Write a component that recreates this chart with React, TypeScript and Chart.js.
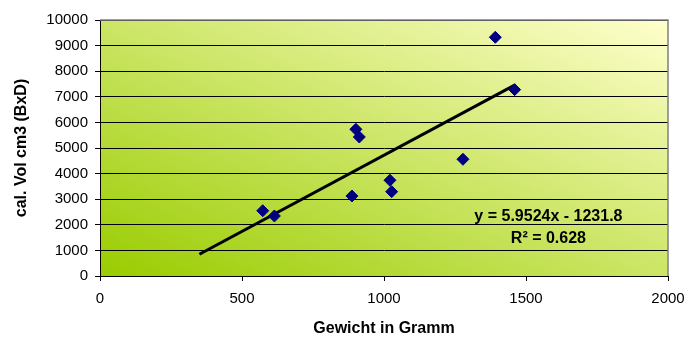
import React, { useEffect, useRef } from "react";
import { Chart, registerables } from "chart.js";

Chart.register(...registerables);

// Data
const weightGrams = [573, 614, 887, 901, 913, 1021, 1027, 1278, 1392, 1460];
const volumeCm3 = [2550, 2345, 3125, 5730, 5430, 3740, 3295, 4560, 9325, 7280];

// Linear trendline as printed on the chart
const trendSlope = 5.9524;
const trendIntercept = -1231.8;
const trendStartX = 350;
const trendEndX = 1460;
const equationLines = ["y = 5.9524x - 1231.8", "R\u00B2 = 0.628"];

const xTitle = "Gewicht in Gramm";
const yTitle = "cal. Vol cm3 (BxD)";

const FONT = "'Liberation Sans', Arial, sans-serif";

const plotDecor = {
  id: "plotDecor",
  beforeDraw(chart: any) {
    const { ctx, chartArea } = chart;
    const { left, top, right, bottom } = chartArea;
    const w = right - left;
    const h = bottom - top;
    ctx.save();
    ctx.translate(left, top);
    ctx.scale(w, h);
    const g = ctx.createLinearGradient(0, 1, 1, 0);
    g.addColorStop(0, "#99cc00");
    g.addColorStop(1, "#ffffcc");
    ctx.fillStyle = g;
    ctx.fillRect(0, 0, 1, 1);
    ctx.restore();
  },
  beforeDatasetsDraw(chart: any) {
    const { ctx, chartArea } = chart;
    const { left, top, right, bottom } = chartArea;
    ctx.save();
    ctx.strokeStyle = "#808080";
    ctx.lineWidth = 1.5;
    ctx.beginPath();
    ctx.moveTo(left, top);
    ctx.lineTo(right, top);
    ctx.lineTo(right, bottom);
    ctx.stroke();
    ctx.restore();
  },
  afterDraw(chart: any) {
    const { ctx, chartArea, scales } = chart;
    ctx.save();
    ctx.fillStyle = "#000";
    ctx.font = `bold 16px ${FONT}`;
    ctx.textAlign = "center";
    ctx.textBaseline = "middle";
    // equation label
    const ex = scales.x.getPixelForValue(1579);
    const ey1 = scales.y.getPixelForValue(2310);
    const ey2 = scales.y.getPixelForValue(1450);
    ctx.fillText(equationLines[0], ex, ey1);
    ctx.fillText(equationLines[1], ex, ey2);
    // axis titles
    const cx = (chartArea.left + chartArea.right) / 2;
    ctx.fillText(xTitle, cx, 329);
    const cy = (chartArea.top + chartArea.bottom) / 2;
    ctx.translate(22, cy);
    ctx.rotate(-Math.PI / 2);
    ctx.fillText(yTitle, 0, 0);
    ctx.restore();
  },
};

const plainTick = (value: any) => String(value);

export default function App() {
  const canvasRef = useRef<HTMLCanvasElement | null>(null);

  useEffect(() => {
    if (!canvasRef.current) return;
    const points = weightGrams.map((x, i) => ({ x, y: volumeCm3[i] }));
    const trend = [trendStartX, trendEndX].map((x) => ({
      x,
      y: trendSlope * x + trendIntercept,
    }));
    const chart = new Chart(canvasRef.current, {
      type: "scatter",
      data: {
        datasets: [
          {
            label: "Linear trend",
            data: trend,
            showLine: true,
            borderColor: "#000000",
            borderWidth: 3,
            pointRadius: 0,
            fill: false,
            order: 2,
          },
          {
            label: "cal. Vol",
            data: points,
            pointStyle: "rectRot",
            pointRadius: 6,
            pointBackgroundColor: "#000080",
            pointBorderColor: "#000080",
            pointBorderWidth: 1,
            order: 1,
          },
        ],
      },
      options: {
        animation: false,
        responsive: true,
        maintainAspectRatio: false,
        layout: { padding: { top: 20, right: 20, left: 0, bottom: 0 } },
        plugins: {
          legend: { display: false },
          tooltip: { enabled: false },
        },
        scales: {
          x: {
            type: "linear",
            min: 0,
            max: 2000,
            ticks: {
              stepSize: 500,
              color: "#000",
              font: { family: FONT, size: 15 },
              padding: 9,
              maxRotation: 0,
              callback: plainTick,
            },
            grid: {
              drawOnChartArea: false,
              drawTicks: true,
              tickLength: 5,
              color: "#000",
            },
            border: { display: true, color: "#000", width: 1 },
            afterFit: (scale: any) => {
              scale.height = 62;
              scale.paddingLeft = 0;
              scale.paddingRight = 0;
            },
          },
          y: {
            type: "linear",
            min: 0,
            max: 10000,
            ticks: {
              stepSize: 1000,
              color: "#000",
              font: { family: FONT, size: 15 },
              padding: 7,
              callback: plainTick,
            },
            grid: {
              drawOnChartArea: true,
              drawTicks: true,
              tickLength: 5,
              color: "#000",
              lineWidth: 1,
            },
            border: { display: true, color: "#000", width: 1 },
            afterFit: (scale: any) => {
              scale.width = 100;
              scale.paddingTop = 0;
              scale.paddingBottom = 0;
            },
          },
        },
      },
      plugins: [plotDecor],
    });
    return () => chart.destroy();
  }, []);

  return (
    <div
      style={{
        position: "absolute",
        left: 0,
        top: 0,
        width: 688,
        height: 338,
        background: "#ffffff",
      }}
    >
      <canvas ref={canvasRef} />
    </div>
  );
}
